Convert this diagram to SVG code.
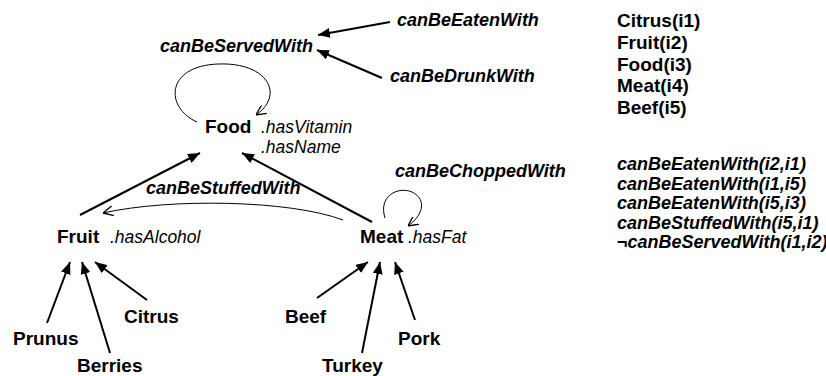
<svg xmlns="http://www.w3.org/2000/svg" width="826" height="376" viewBox="0 0 826 376">
<defs>
<style>
.b{font-family:"Liberation Sans",Arial,sans-serif;font-weight:bold;font-size:19px;fill:#000}
.bi{font-family:"Liberation Sans",Arial,sans-serif;font-weight:bold;font-style:italic;font-size:18px;fill:#000}
.i{font-family:"Liberation Sans",Arial,sans-serif;font-style:italic;font-size:17.5px;fill:#000}
.e{stroke:#000;stroke-width:2;fill:none}
.t{stroke:#000;stroke-width:1;fill:none}
</style>
<marker id="fa" viewBox="0 0 12 10" refX="12" refY="5" markerWidth="12" markerHeight="10" markerUnits="userSpaceOnUse" orient="auto"><path d="M0,0 L12,5 L0,10 Z" fill="#000"/></marker>
<marker id="oa" viewBox="0 0 10 10" refX="10" refY="5" markerWidth="10" markerHeight="10" markerUnits="userSpaceOnUse" orient="auto"><path d="M0,0 L10,5 L0,10" fill="none" stroke="#000" stroke-width="1.3"/></marker>
</defs>
<rect width="826" height="376" fill="#fff"/>
<g id="connectors">
<line class="e" x1="390" y1="22" x2="318" y2="35" marker-end="url(#fa)"/>
<line class="e" x1="382" y1="78" x2="317" y2="50" marker-end="url(#fa)"/>
<path class="t" d="M197,122 C165,108 165,66 218,64 C268,62 285,95 256,115" marker-end="url(#oa)"/>
<line class="e" x1="80" y1="215" x2="200" y2="153" marker-end="url(#fa)"/>
<line class="e" x1="372" y1="222" x2="242" y2="153" marker-end="url(#fa)"/>
<path class="t" d="M343,220 C290,200 170,198 103,213" marker-end="url(#oa)"/>
<path class="t" d="M385,218 C378,196 398,186 412,192 C428,200 422,216 408,226" marker-end="url(#oa)"/>
<line class="e" x1="47" y1="323" x2="70" y2="262" marker-end="url(#fa)"/>
<line class="e" x1="110" y1="353" x2="82" y2="262" marker-end="url(#fa)"/>
<line class="e" x1="147" y1="300" x2="95" y2="262" marker-end="url(#fa)"/>
<line class="e" x1="317" y1="298" x2="368" y2="262" marker-end="url(#fa)"/>
<line class="e" x1="362" y1="353" x2="380" y2="262" marker-end="url(#fa)"/>
<line class="e" x1="415" y1="320" x2="395" y2="262" marker-end="url(#fa)"/>
</g>
<g id="canBeEatenWith"><text class="bi" x="397" y="26">canBeEatenWith</text></g>
<g id="canBeServedWith"><text class="bi" x="160" y="52">canBeServedWith</text></g>
<g id="canBeDrunkWith"><text class="bi" x="390" y="82">canBeDrunkWith</text></g>
<g id="food"><text class="b" x="205" y="133">Food</text><text class="i" x="261" y="133">.hasVitamin</text><text class="i" x="261" y="153">.hasName</text></g>
<g id="canBeChoppedWith"><text class="bi" x="395" y="177">canBeChoppedWith</text></g>
<g id="canBeStuffedWith"><text class="bi" x="146" y="194">canBeStuffedWith</text></g>
<g id="fruit"><text class="b" x="57" y="243">Fruit</text><text class="i" x="110" y="243">.hasAlcohol</text></g>
<g id="meat"><text class="b" x="360" y="243">Meat</text><text class="i" x="408" y="243">.hasFat</text></g>
<g id="citrus"><text class="b" x="124" y="323">Citrus</text></g>
<g id="prunus"><text class="b" x="13" y="345">Prunus</text></g>
<g id="berries"><text class="b" x="77" y="372">Berries</text></g>
<g id="beef"><text class="b" x="285" y="323">Beef</text></g>
<g id="pork"><text class="b" x="398" y="345">Pork</text></g>
<g id="turkey"><text class="b" x="322" y="372">Turkey</text></g>
<g id="individuals">
<text class="b" x="617" y="27">Citrus(i1)</text>
<text class="b" x="617" y="48.75">Fruit(i2)</text>
<text class="b" x="617" y="70.5">Food(i3)</text>
<text class="b" x="617" y="92.25">Meat(i4)</text>
<text class="b" x="617" y="114">Beef(i5)</text>
</g>
<g id="assertions">
<text class="bi" x="617" y="170">canBeEatenWith(i2,i1)</text>
<text class="bi" x="617" y="189.5">canBeEatenWith(i1,i5)</text>
<text class="bi" x="617" y="209">canBeEatenWith(i5,i3)</text>
<text class="bi" x="617" y="228.5">canBeStuffedWith(i5,i1)</text>
<text class="bi" x="617" y="248">¬canBeServedWith(i1,i2)</text>
</g>
</svg>
